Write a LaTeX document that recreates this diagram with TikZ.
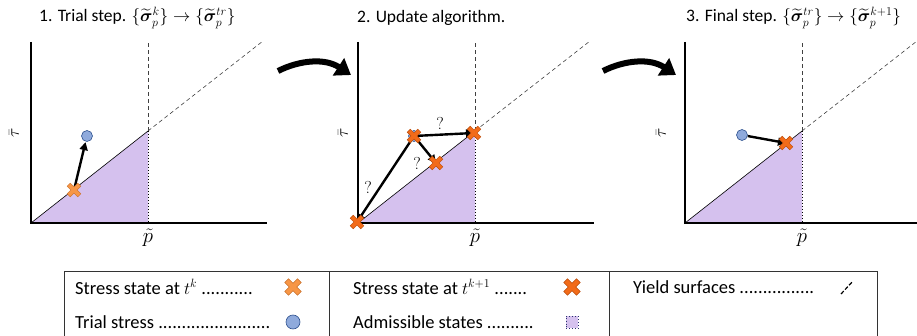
\documentclass[tikz,border=0pt]{standalone}
\usepackage{amsmath,bm}
\usepackage{fontspec}
\setmainfont{Carlito}
\usetikzlibrary{arrows.meta}
\definecolor{adm}{RGB}{213,193,238}
\definecolor{lor}{RGB}{247,150,70}
\definecolor{lorD}{RGB}{200,110,40}
\definecolor{dor}{RGB}{242,107,25}
\definecolor{dorD}{RGB}{185,75,10}
\definecolor{tbl}{RGB}{143,170,220}
\definecolor{tblD}{RGB}{47,82,143}
\definecolor{sqD}{RGB}{40,50,110}
\tikzset{
  xshape/.pic={\begin{scope}[rotate=45]
    \path[pic actions] (2.2,7.5)--(2.2,2.2)--(7.5,2.2)--(7.5,-2.2)--(2.2,-2.2)--(2.2,-7.5)--(-2.2,-7.5)--(-2.2,-2.2)--(-7.5,-2.2)--(-7.5,2.2)--(-2.2,2.2)--(-2.2,7.5)--cycle;
  \end{scope}},
  lcross/.style={fill=lor, draw=lorD, line width=0.5pt},
  dcross/.style={fill=dor, draw=dorD, line width=0.5pt},
  mk/.style={inner sep=0pt, minimum size=4pt, shape=circle},
  trial/.style={circle, fill=tbl, draw=tblD, line width=0.6pt, minimum size=11pt, inner sep=0pt},
  arr/.style={line width=2.4pt, -{Triangle[length=8pt,width=8pt]}},
  bigarr/.style={line width=6pt, -{Triangle[length=15pt,width=20pt]}},
  axis/.style={line width=1.3pt},
  yld/.style={dashed, line width=0.6pt, dash pattern=on 4pt off 3pt, black!75},
  edge/.style={dotted, line width=1pt},
  ttl/.style={anchor=west, font=\fontsize{17.5}{20}\selectfont, inner sep=0pt},
  leg/.style={anchor=west, font=\fontsize{18.5}{21}\selectfont, inner sep=0pt},
  qm/.style={font=\fontsize{16}{18}\selectfont, inner sep=0pt},
  panelbase/.pic={
    \fill[adm] (0,0) -- (117,-92) -- (117,0) -- cycle;
    \draw[line width=0.6pt] (0,0) -- (117,-92);
    \draw[yld] (117,-92) -- (232,-182);
    \draw[yld] (117,-92) -- (117,-181);
    \draw[edge] (117,-92) -- (117,0);
    \draw[axis] (0,-181) -- (0,0) -- (236,0);
    \draw[edge] (0,0) -- (117,0);
    \node[font=\fontsize{20}{22}\selectfont, inner sep=0pt] at (117,15) {$\tilde{p}$};
  },
}
\begin{document}
\begin{tikzpicture}[x=1pt,y=-1pt]
\useasboundingbox (0,0) rectangle (917,336);
% titles
\node[ttl] (t1) at (39,18) {1. Trial step. $\{\widetilde{\bm\sigma}_p^{k}\}\rightarrow\{\widetilde{\bm\sigma}_p^{tr}\}$};
\node[ttl] (t2) at (357,18) {2. Update algorithm.};
\node[ttl] (t3) at (686,18) {3. Final step. $\{\widetilde{\bm\sigma}_p^{tr}\}\rightarrow\{\widetilde{\bm\sigma}_p^{k+1}\}$};
% panels
\pic at (31,223) {panelbase};
\pic at (358,223) {panelbase};
\pic at (685,223) {panelbase};
\node[rotate=90, font=\fontsize{18}{20}\selectfont, inner sep=0pt] (tau1) at (14,133) {$\bar{\tau}$};
\node[rotate=90, font=\fontsize{18}{20}\selectfont, inner sep=0pt] (tau2) at (343,133) {$\bar{\tau}$};
\node[rotate=90, font=\fontsize{18}{20}\selectfont, inner sep=0pt] (tau3) at (661,133) {$\bar{\tau}$};
% big arrows
\coordinate (ba1s) at (278,71); \coordinate (ba1e) at (351,75);
\coordinate (ba2s) at (603,71); \coordinate (ba2e) at (676,75);
\draw[bigarr] (ba1s) .. controls (300,60) and (325,58) .. (ba1e);
\draw[bigarr] (ba2s) .. controls (625,60) and (650,58) .. (ba2e);
% panel 1
\node[mk] (p1x) at (74,190) {};
\node[trial] (p1t) at (87,136) {};
\draw[arr, shorten >=0.5pt] (p1x.center) -- (p1t);
\pic[lcross] at (p1x) {xshape};
% panel 2
\node[mk] (p2o) at (357,222) {};
\node[trial] (p2t) at (414,136) {};
\node[mk] (p2y) at (436,163) {};
\node[mk] (p2c) at (474,133) {};
\draw[arr] (p2t.center) -- (p2o.center);
\draw[arr] (p2t.center) -- (p2y.center);
\draw[arr] (p2t.center) -- (p2c.center);
\pic[dcross] at (p2o) {xshape};
\pic[dcross] at (p2t) {xshape};
\pic[dcross] at (p2y) {xshape};
\pic[dcross] at (p2c) {xshape};
\node[qm] (q1) at (368,188) {$?$};
\node[qm] (q2) at (417,164) {$?$};
\node[qm] (q3) at (440,124) {$?$};
% panel 3
\node[trial] (p3t) at (742,135) {};
\node[mk] (p3x) at (786,143) {};
\draw[arr] (p3t) -- (p3x.center);
\pic[dcross] at (p3x) {xshape};
% legend
\draw[line width=0.7pt, black!80] (64,340) -- (64,271) -- (877,271) -- (877,340);
\draw[line width=0.7pt, black!80] (329,271) -- (329,340);
\draw[line width=0.7pt, black!80] (609,271) -- (609,340);
\node[leg] (l1) at (75,287) {Stress state at $t^k$ ...........};
\node[leg] (l2) at (75,322) {Trial stress ........................};
\node[leg] (l3) at (353,287) {Stress state at $t^{k+1}$ .......};
\node[leg] (l4) at (353,322) {Admissible states ..........};
\node[leg] (l5) at (633,287) {Yield surfaces ................};
\node[mk] (s1) at (293,287) {};
\pic[lcross, scale=1.2] at (s1) {xshape};
\node[trial, minimum size=14pt] (s2) at (293,322) {};
\node[mk] (s3) at (572,287) {};
\pic[dcross, scale=1.2] at (s3) {xshape};
\node[draw=sqD, dotted, line width=0.9pt, fill=adm, minimum size=12pt, inner sep=0pt] (s4) at (572,322) {};
\coordinate (s5a) at (841,294); \coordinate (s5b) at (853,281);
\draw[line width=1.2pt, dash pattern=on 4pt off 2pt] (s5a) -- (s5b);
\end{tikzpicture}
\end{document}
